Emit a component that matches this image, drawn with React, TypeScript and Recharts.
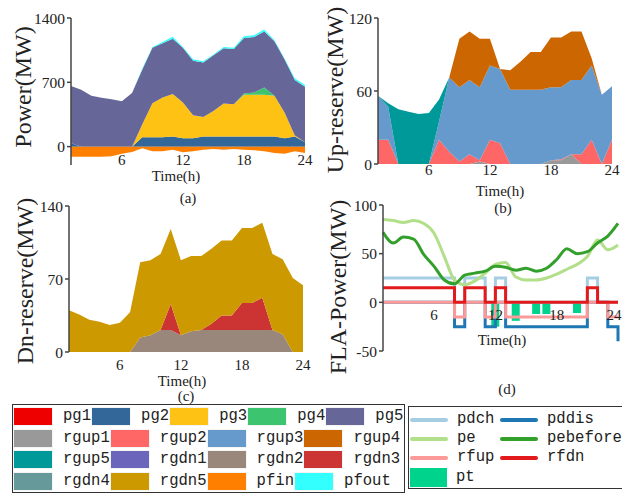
import { ComposedChart, Area, Line, Bar, XAxis, YAxis, ReferenceLine } from 'recharts'

// hourly data
const hours = [1, 2, 3, 4, 5, 6, 7, 8, 9, 10, 11, 12, 13, 14, 15, 16, 17, 18, 19, 20, 21, 22, 23, 24]

// (a) generation
const pg1 = [0, 0, 0, 0, 0, 0, 0, 0, 0, 0, 0, 0, 0, 0, 0, 0, 0, 0, 0, 0, 0, 0, 0, 0]
const pg2 = [40, 0, 0, 0, 0, 0, 0, 103, 103, 103, 110, 92, 92, 110, 110, 110, 110, 110, 110, 110, 110, 92, 110, 48]
const pg3 = [0, 0, 0, 0, 0, 0, 0, 139, 370, 432, 462, 388, 249, 212, 278, 359, 352, 454, 454, 454, 443, 278, 11, 0]
const pg4 = [0, 0, 0, 0, 0, 0, 0, 0, 0, 0, 0, 0, 0, 0, 0, 0, 0, 15, 25, 80, 0, 0, 0, 0]
const pg5 = [620, 620, 553, 531, 517, 495, 583, 595, 602, 590, 603, 595, 594, 593, 606, 601, 600, 602, 603, 610, 595, 577, 603, 603]
const pfout = [0, 0, 0, 0, 0, 0, 0, 10, 10, 15, 20, 10, 15, 15, 10, 15, 15, 20, 20, 20, 10, 10, 20, 20]
const pfin = [-110, -110, -110, -110, -105, -77, -59, -18, -51, -51, -33, -62, -51, -33, -26, -33, -26, -33, -40, -51, -70, -77, -51, -70]

// (b) up reserve
const rgup1 = [0, 0, 0, 0, 0, 0, 0, 0, 0, 0, 2, 0, 0, 0, 0, 0, 0, 3, 3, 8, 0, 0, 0, 0]
const rgup2 = [20, 20, 0, 0, 0, 0, 20, 10, 2, 8, 1, 20, 17, 0, 0, 0, 0, 0, 1, 0, 8, 20, 0, 20]
const rgup3 = [36, 27, 0, 0, 0, 0, 15, 61, 61, 61, 60, 61, 61, 61, 61, 61, 61, 60, 59, 61, 61, 61, 57, 44]
const rgup4 = [0, 0, 0, 0, 0, 0, 0, 0, 40, 40, 40, 22, 0, 16, 23, 31, 31, 41, 41, 40, 40, 6, 0, 0]
const rgup5 = [0, 3, 45, 43, 41, 42, 18, 0, 0, 0, 0, 0, 0, 0, 0, 0, 0, 0, 0, 0, 0, 0, 0, 0]

// (c) down reserve
const rgdn1 = [0, 0, 0, 0, 0, 0, 0, 0, 0, 0, 0, 0, 0, 0, 0, 0, 0, 0, 0, 0, 0, 0, 0, 0]
const rgdn2 = [0, 0, 0, 0, 0, 0, 0, 14, 16, 21, 21, 16, 20, 21, 21, 21, 21, 21, 21, 21, 21, 17, 0, 0]
const rgdn3 = [0, 0, 0, 0, 0, 0, 0, 0, 0, 0, 25, 0, 0, 0, 6, 14, 14, 26, 26, 31, 0, 0, 0, 0]
const rgdn4 = [0, 0, 0, 0, 0, 0, 0, 0, 0, 0, 0, 0, 0, 0, 0, 0, 0, 0, 0, 0, 0, 0, 0, 0]
const rgdn5 = [40, 36, 31, 29, 26, 28, 38, 72, 72, 73, 72, 72, 72, 71, 72, 72, 72, 72, 72, 72, 73, 72, 71, 64]

// (d) flexible load
const pdch = [25, 25, 25, 25, 25, 25, 25, 0, 25, 25, 0, 25, 0, 0, 0, 0, 0, 0, 0, 0, 25, 0, 0, 0]
const pddis = [0, 0, 0, 0, 0, 0, 0, -25, 0, 0, -25, 0, -25, -25, -25, -25, -25, -25, -25, -25, 0, 0, -25, -40]
const rfup = [0, 0, 0, 0, 0, 0, 0, -15, 0, 0, -15, 0, -15, -15, -15, -15, -15, -15, -15, -15, 0, 0, -15, -15]
const rfdn = [15, 15, 15, 15, 15, 15, 15, 0, 15, 15, 0, 15, 0, 0, 0, 0, 0, 0, 0, 0, 15, 0, 0, 0]
const pe = [85, 84, 82, 84, 81, 71, 47, 23, 18, 22, 30, 39, 41, 26, 23, 23, 25, 29, 34, 39, 47, 64, 54, 59]
const pebefore = [72, 61, 67, 65, 49, 37, 23, 19, 28, 30, 32, 37, 36, 33, 35, 32, 35, 44, 55, 50, 52, 61, 68, 81]
const pt = [0, 0, 0, 0, 0, 0, 0, 0, 0, 0, 0, -25, 0, -19, 0, -12, -12, 0, 0, -11, 0, 0, 0, 0]

const colors: Record<string, string> = {
  pg1: '#ee0000', pg2: '#336699', pg3: '#fec214', pg4: '#3dc46e', pg5: '#666699',
  rgup1: '#999999', rgup2: '#ff6666', rgup3: '#6699cc', rgup4: '#cc6600', rgup5: '#009999',
  rgdn1: '#6b66bb', rgdn2: '#9a877b', rgdn3: '#cc3333', rgdn4: '#669999', rgdn5: '#cc9900',
  pfin: '#ff8000', pfout: '#33ffff',
  pdch: '#a6cee3', pddis: '#1f78b4', pe: '#b2df8a', pebefore: '#33a02c', rfup: '#fb9a99', rfdn: '#e31a1c', pt: '#00d38c',
}

const legendRows = [
  ['pg1', 'pg2', 'pg3', 'pg4', 'pg5'],
  ['rgup1', 'rgup2', 'rgup3', 'rgup4'],
  ['rgup5', 'rgdn1', 'rgdn2', 'rgdn3'],
  ['rgdn4', 'rgdn5', 'pfin', 'pfout'],
]
const flaLegend = [['pdch', 'pddis'], ['pe', 'pebefore'], ['rfup', 'rfdn'], ['pt']]

const rows = hours.map((h, i) => ({
  h,
  pg1: pg1[i], pg2: pg2[i], pg3: pg3[i], pg4: pg4[i], pg5: pg5[i], pfout: pfout[i], pfin: pfin[i],
  rgup1: rgup1[i], rgup2: rgup2[i], rgup3: rgup3[i], rgup4: rgup4[i], rgup5: rgup5[i],
  rgdn1: rgdn1[i], rgdn2: rgdn2[i], rgdn3: rgdn3[i], rgdn4: rgdn4[i], rgdn5: rgdn5[i],
  pdch: pdch[i], pddis: pddis[i], rfup: rfup[i], rfdn: rfdn[i], pe: pe[i], pebefore: pebefore[i], pt: pt[i],
}))

const serif = '"Liberation Serif", "Times New Roman", serif'
const mono = '"Liberation Mono", monospace'
const axisColor = '#444'

const xTick = (y: number) => (p: any) => (
  <text x={p.x} y={y} dy="0.35em" textAnchor="middle" fontSize={15} fontFamily={serif} fill="#222">
    {p.payload.value}
  </text>
)
const yTitle = (text: string, x: number, y: number) => () => (
  <text x={x} y={y} dy="0.35em" transform={`rotate(-90 ${x} ${y})`} textAnchor="middle" fontSize={24} fontFamily={serif} fill="#222">
    {text}
  </text>
)
const yTickStyle = { fontSize: 15.5, fontFamily: serif, fill: '#222' }

function stackArea(key: string, stackId?: string) {
  return (
    <Area key={key} dataKey={key} stackId={stackId} type="linear" fill={colors[key]} fillOpacity={1}
      stroke="none" isAnimationActive={false} />
  )
}

function PowerChart() {
  return (
    <ComposedChart width={320} height={200} data={rows} margin={{ top: 18, right: 15, left: 0, bottom: 15 }}>
      <XAxis dataKey="h" type="number" domain={[1, 24]} ticks={[6, 12, 18, 24]} axisLine={false} tickLine={false}
        height={20} tick={xTick(160)} />
      <YAxis type="number" domain={[-200, 1400]} ticks={[0, 700, 1400]} width={71} tickSize={4} tickMargin={2}
        stroke={axisColor} strokeWidth={1.5} tick={yTickStyle} label={yTitle('Power(MW)', 23, 87)} />
      {['pg1', 'pg2', 'pg3', 'pg4', 'pg5', 'pfout'].map((k) => stackArea(k, 'p'))}
      {stackArea('pfin')}
    </ComposedChart>
  )
}

function UpChart() {
  return (
    <ComposedChart width={312} height={200} data={rows} margin={{ top: 18, right: 10, left: 0, bottom: 16 }}>
      <XAxis dataKey="h" type="number" domain={[1, 24]} ticks={[6, 12, 18, 24]} axisLine={false} tickLine={false}
        height={20} tick={xTick(170)} />
      <YAxis type="number" domain={[0, 120]} ticks={[0, 60, 120]} width={68} tickSize={4} tickMargin={2}
        stroke={axisColor} strokeWidth={1.5} tick={yTickStyle} label={yTitle('Up-reserve(MW)', 25, 90)} />
      {['rgup1', 'rgup2', 'rgup3', 'rgup5', 'rgup4'].map((k) => stackArea(k, 'u'))}
    </ComposedChart>
  )
}

function DnChart() {
  return (
    <ComposedChart width={320} height={200} data={rows} margin={{ top: 16, right: 17, left: 0, bottom: 18 }}>
      <XAxis dataKey="h" type="number" domain={[1, 24]} ticks={[6, 12, 18, 24]} axisLine={false} tickLine={false}
        height={20} tick={xTick(175)} />
      <YAxis type="number" domain={[0, 140]} ticks={[0, 70, 140]} width={69} tickSize={4} tickMargin={2}
        stroke={axisColor} strokeWidth={1.5} tick={yTickStyle} label={yTitle('Dn-reserve(MW)', 25, 91)} />
      {['rgdn1', 'rgdn2', 'rgdn3', 'rgdn4', 'rgdn5'].map((k) => stackArea(k, 'd'))}
    </ComposedChart>
  )
}

function FlaChart() {
  return (
    <ComposedChart width={312} height={200} data={rows} margin={{ top: 15, right: 4, left: 0, bottom: 19 }}>
      <XAxis dataKey="h" type="number" domain={[1, 24]} ticks={[6, 12, 18, 24]} axisLine={false} tickLine={false}
        height={20} tick={xTick(125)} />
      <YAxis type="number" domain={[-50, 100]} ticks={[-50, 0, 50, 100]} width={73} tickSize={4} tickMargin={2}
        stroke={axisColor} strokeWidth={1.5} tick={yTickStyle} label={yTitle('FLA-Power(MW)', 28, 97)} />
      <ReferenceLine y={0} stroke={colors.pt} strokeWidth={1.5} strokeDasharray="5 3" />
      {['pdch', 'pddis', 'rfup', 'rfdn'].map((k) => (
        <Line key={k} dataKey={k} type="stepAfter" stroke={colors[k]} strokeWidth={3} dot={false} isAnimationActive={false} />
      ))}
      {['pe', 'pebefore'].map((k) => (
        <Line key={k} dataKey={k} type="monotone" stroke={colors[k]} strokeWidth={3} dot={false} isAnimationActive={false} />
      ))}
      <Bar dataKey="pt" fill={colors.pt} barSize={8} isAnimationActive={false} />
    </ComposedChart>
  )
}

const caption = (text: string, x: number, y: number) => (
  <div style={{ position: 'absolute', left: x - 40, top: y - 7, width: 80, textAlign: 'center', fontFamily: serif, fontSize: 15, lineHeight: '14px', color: '#222' }}>
    {text}
  </div>
)

export default function App() {
  return (
    <div style={{ position: 'absolute', left: 0, top: 0, width: 622, height: 494, overflow: 'hidden', background: '#fff' }}>
      <div style={{ position: 'absolute', left: 0, top: 0 }}><PowerChart /></div>
      <div style={{ position: 'absolute', left: 310, top: 0 }}><UpChart /></div>
      <div style={{ position: 'absolute', left: 0, top: 190 }}><DnChart /></div>
      <div style={{ position: 'absolute', left: 310, top: 190 }}><FlaChart /></div>
      {caption('Time(h)', 176, 176)}
      {caption('Time(h)', 500, 191)}
      {caption('Time(h)', 182, 381)}
      {caption('Time(h)', 502, 340)}
      {caption('(a)', 188, 198)}
      {caption('(b)', 503, 208)}
      {caption('(c)', 186, 396)}
      {caption('(d)', 507, 389)}

      <div style={{ position: 'absolute', left: 12, top: 404, width: 393, height: 89, border: '1px solid #333', boxSizing: 'border-box', paddingTop: 1 }}>
        {legendRows.map((row, r) => (
          <div key={r} style={{ display: 'flex', alignItems: 'center', height: 21.5 }}>
            {row.map((k) => (
              <div key={k} style={{ display: 'flex', alignItems: 'center' }}>
                <div style={{ width: 40, height: 19, background: colors[k], boxSizing: 'border-box', border: '1px solid #f4f4f4' }} />
                <span style={{ marginLeft: 10, fontFamily: mono, fontSize: 15.6, lineHeight: '19px', color: '#222', whiteSpace: 'pre' }}>{k}</span>
              </div>
            ))}
          </div>
        ))}
      </div>

      <div style={{ position: 'absolute', left: 408, top: 406, width: 230, height: 83, border: '1px solid #333', boxSizing: 'border-box' }}>
        {flaLegend.map((row, r) =>
          row.map((k, c) => (
            <div key={k} style={{ position: 'absolute', left: 1 + c * 90, top: [3, 22, 41, 61][r], height: 19, display: 'flex', alignItems: 'center' }}>
              {k === 'pt'
                ? <div style={{ width: 37, height: 19, background: colors[k] }} />
                : <div style={{ width: 38, height: 4, borderRadius: 2, background: colors[k] }} />}
              <span style={{ marginLeft: 9, fontFamily: mono, fontSize: 15.6, lineHeight: '19px', color: '#222' }}>{k}</span>
            </div>
          ))
        )}
      </div>
    </div>
  )
}
